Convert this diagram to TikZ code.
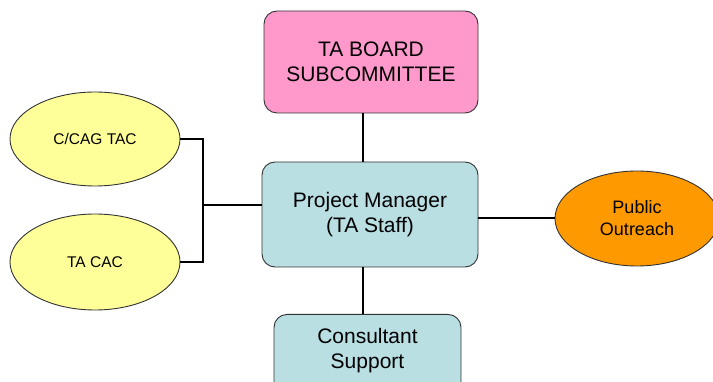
\documentclass[tikz,border=0pt]{standalone}
\usepackage{fontspec}
\setmainfont{Liberation Sans}
\usetikzlibrary{shapes.geometric}
\definecolor{boardpink}{HTML}{FF99CC}
\definecolor{pmblue}{HTML}{B9DFE3}
\definecolor{ovyellow}{HTML}{FFFF99}
\definecolor{ovorange}{HTML}{FF9900}
\definecolor{edgegray}{HTML}{333333}
\tikzset{
  rbox/.style={draw=edgegray, line width=0.9pt, rounded corners=13pt, align=center, inner sep=0pt},
  oval/.style={draw=edgegray, line width=0.9pt, ellipse, inner sep=0pt, align=center},
  link/.style={line width=2.4pt, black},
}
\begin{document}
\begin{tikzpicture}[x=1pt,y=-1pt]
\useasboundingbox (0,0) rectangle (713,382);
\begin{scope}
\clip (0,0) rectangle (713,382);
\node[rbox, fill=boardpink, minimum width=214pt, minimum height=102pt, font=\fontsize{21}{25}\selectfont] (board) at (371,62) {TA BOARD\\SUBCOMMITTEE};
\node[rbox, fill=pmblue, minimum width=216pt, minimum height=105pt, font=\fontsize{21}{25}\selectfont] (pm) at (370,214.5) {Project Manager\\(TA Staff)};
\node[rbox, fill=pmblue, minimum width=187pt, minimum height=100pt, font=\fontsize{21}{25}\selectfont, anchor=north] (cons) at (367.5,314) {};
\node[font=\fontsize{21}{25}\selectfont, align=center] (constext) at (367.5,351) {Consultant\\Support};
\node[oval, fill=ovyellow, minimum width=170pt, minimum height=94pt, font=\fontsize{15.5}{18}\selectfont] (cag) at (95,139) {C/CAG TAC};
\node[oval, fill=ovyellow, minimum width=170pt, minimum height=96pt, font=\fontsize{15.5}{18}\selectfont] (cac) at (95,262) {TA CAC};
\node[oval, fill=ovorange, minimum width=164pt, minimum height=95pt, font=\fontsize{18}{22}\selectfont] (pub) at (637,218.5) {Public\\Outreach};
\coordinate (j) at (203,205);
\draw[link] (board.south -| 363,0) -- (pm.north -| 363,0);
\draw[link] (pm.south -| 363,0) -- (cons.north -| 363,0);
\draw[link] (pm.east |- 0,218) -- (pub.west |- 0,218);
\draw[link] (cag.east) -| (j);
\draw[link] (cac.east) -| (j);
\draw[link] (j) -- (pm.west |- j);
\end{scope}
\end{tikzpicture}
\end{document}
